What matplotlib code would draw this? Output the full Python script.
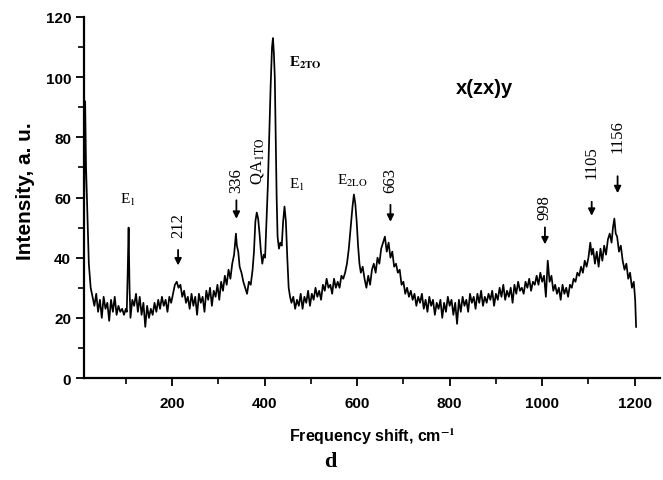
import matplotlib
matplotlib.use("Agg")
import matplotlib.pyplot as plt
from matplotlib.ticker import MultipleLocator, FixedLocator

plt.rcParams['mathtext.fontset'] = 'stix'

shift = [10, 12, 14, 17, 20, 24, 28, 32, 36, 40, 44, 48, 52, 56, 60, 64, 68, 72, 76, 80,
         84, 88, 92, 96, 100, 102, 104, 106, 108, 110, 114, 118, 122, 126, 130, 134, 138, 142, 146, 150,
         154, 158, 162, 166, 170, 174, 178, 182, 186, 190, 194, 198, 202, 206, 210, 214, 218, 222, 226, 230,
         234, 238, 242, 246, 250, 254, 258, 262, 266, 270, 274, 278, 282, 286, 290, 294, 298, 302, 306, 310,
         314, 318, 322, 326, 330, 334, 338, 340, 343, 346, 350, 354, 358, 362, 366, 370, 374, 377, 380, 383,
         386, 389, 392, 395, 398, 401, 404, 407, 410, 413, 416, 418, 420, 422, 424, 426, 428, 431, 434, 437,
         440, 443, 446, 449, 452, 455, 458, 462, 466, 470, 474, 478, 482, 486, 490, 494, 498, 502, 506, 510,
         514, 518, 522, 526, 530, 534, 538, 542, 546, 550, 554, 558, 562, 566, 570, 574, 578, 582, 586, 590,
         593, 596, 599, 602, 605, 608, 612, 616, 620, 624, 628, 632, 636, 640, 644, 648, 652, 656, 660, 664,
         668, 672, 676, 680, 684, 688, 692, 696, 700, 704, 708, 712, 716, 720, 724, 728, 732, 736, 740, 744,
         748, 752, 756, 760, 764, 768, 772, 776, 780, 784, 788, 792, 796, 800, 804, 808, 812, 816, 820, 824,
         828, 832, 836, 840, 844, 848, 852, 856, 860, 864, 868, 872, 876, 880, 884, 888, 892, 896, 900, 904,
         908, 912, 916, 920, 924, 928, 932, 936, 940, 944, 948, 952, 956, 960, 964, 968, 972, 976, 980, 984,
         988, 992, 996, 1000, 1004, 1008, 1012, 1016, 1020, 1024, 1028, 1032, 1036, 1040, 1044, 1048, 1052, 1056, 1060, 1064,
         1068, 1072, 1076, 1080, 1084, 1088, 1092, 1096, 1100, 1104, 1107, 1110, 1114, 1118, 1122, 1126, 1130, 1134, 1138, 1142,
         1146, 1150, 1153, 1156, 1159, 1162, 1166, 1170, 1174, 1178, 1182, 1186, 1190, 1194, 1198, 1201, 1203]

intensity = [60, 92, 70, 54, 38, 30, 27, 24, 28, 22, 26, 20, 27, 23, 25, 19, 26, 22, 27, 21,
             24, 22, 23, 21, 23, 22, 35, 50, 30, 20, 26, 24, 28, 22, 27, 21, 25, 17, 24, 20,
             23, 21, 25, 22, 26, 23, 27, 24, 26, 22, 27, 25, 28, 31, 32, 30, 31, 27, 29, 25,
             27, 23, 28, 24, 27, 21, 28, 25, 27, 22, 29, 26, 30, 24, 29, 27, 31, 26, 32, 29,
             34, 31, 36, 33, 38, 41, 48, 44, 42, 37, 35, 32, 30, 28, 32, 31, 36, 42, 52, 55,
             53, 48, 42, 38, 41, 40, 52, 64, 80, 97, 110, 113, 108, 100, 80, 60, 47, 43, 45, 44,
             52, 57, 52, 40, 30, 27, 25, 27, 23, 26, 24, 28, 23, 27, 25, 29, 24, 28, 26, 30,
             27, 29, 26, 31, 29, 33, 30, 31, 28, 33, 30, 32, 30, 34, 33, 35, 38, 43, 50, 57,
             61, 58, 52, 44, 38, 35, 37, 33, 30, 34, 31, 36, 38, 35, 40, 38, 43, 45, 47, 42,
             45, 40, 42, 37, 38, 35, 36, 31, 32, 28, 30, 27, 29, 26, 28, 24, 27, 25, 28, 23,
             26, 22, 27, 24, 26, 21, 25, 23, 26, 20, 25, 22, 27, 24, 26, 21, 25, 18, 26, 22,
             27, 24, 26, 22, 28, 25, 27, 23, 28, 25, 29, 24, 27, 25, 28, 26, 29, 24, 28, 26,
             30, 27, 31, 26, 29, 27, 30, 25, 31, 28, 32, 29, 30, 28, 32, 30, 33, 29, 32, 31,
             34, 31, 35, 32, 34, 27, 39, 32, 34, 29, 31, 28, 30, 26, 31, 28, 30, 27, 31, 30,
             33, 32, 35, 34, 37, 35, 39, 37, 40, 45, 41, 43, 38, 42, 37, 43, 39, 44, 41, 46,
             48, 45, 50, 53, 48, 47, 42, 44, 39, 36, 38, 33, 35, 30, 32, 26, 17]

x_ticks = [200, 400, 600, 800, 1000, 1200]
y_ticks = [0, 20, 40, 60, 80, 100, 120]

fig = plt.figure(figsize=(6.63, 4.81), dpi=100)
ax = fig.add_axes([0.127, 0.212, 0.868, 0.7506])
ax.plot(shift, intensity, color='black', lw=1.25)

ax.set_xlim(10, 1254)
ax.set_ylim(0, 120)
ax.xaxis.set_major_locator(FixedLocator(x_ticks))
ax.xaxis.set_minor_locator(FixedLocator([100, 300, 500, 700, 900, 1100]))
ax.yaxis.set_major_locator(FixedLocator(y_ticks))
ax.yaxis.set_minor_locator(MultipleLocator(10))
for s in ['top', 'right']:
    ax.spines[s].set_visible(False)
for s in ['left', 'bottom']:
    ax.spines[s].set_linewidth(1.6)
ax.tick_params(which='major', direction='out', length=6, width=1.3, labelsize=11)
ax.tick_params(which='minor', direction='out', length=4, width=1.2)
for lab in ax.get_xticklabels() + ax.get_yticklabels():
    lab.set_fontweight('bold')
    lab.set_family('Liberation Sans')
ax.tick_params(axis='x', pad=7)

ax.set_ylabel('Intensity, a. u.', fontsize=15, fontweight='bold', family='Liberation Sans')
ax.yaxis.set_label_coords(-0.085, 0.52)
ax.set_xlabel('Frequency shift, cm$^{\\mathbf{-1}}$', fontsize=11.5, fontweight='bold',
              family='Liberation Sans', labelpad=11)

serif = 'Liberation Serif'
ax.text(105, 59.5, 'E$_{\\mathrm{1}}$', family=serif, fontsize=11, ha='center', va='center')
ax.text(453, 105, 'E$_{\\mathbf{2TO}}$', family=serif, fontsize=11, fontweight='bold', ha='left', va='center')
ax.text(453, 64.5, 'E$_{\\mathrm{1}}$', family=serif, fontsize=11, ha='left', va='center')
ax.text(556, 66, 'E$_{\\mathrm{2LO}}$', family=serif, fontsize=11, ha='left', va='center')
ax.text(384, 72.5, 'QA$_{\\mathrm{1TO}}$', family=serif, fontsize=12, rotation=90, ha='center', va='center')
ax.text(876, 96.7, 'x(zx)y', family='Liberation Sans', fontsize=14.5, fontweight='bold', ha='center', va='center')

peak_labels = ['212', '336', '663', '998', '1105', '1156']
label_x = [213, 339, 672, 1006, 1107, 1163]
label_y = [51, 66, 66, 57, 72, 80.7]
arrow_top = [43.5, 60, 58.5, 51, 59.5, 68]
arrow_bot = [36.5, 52, 51, 43.5, 53, 60.5]
for t, lx, ly, at, ab in zip(peak_labels, label_x, label_y, arrow_top, arrow_bot):
    ax.text(lx, ly, t, family=serif, fontsize=12, rotation=90, ha='center', va='center')
    ax.annotate('', xy=(lx, ab), xytext=(lx, at),
                arrowprops=dict(arrowstyle='-|>', color='black', lw=1.3, mutation_scale=10))

fig.text(330 / 663, 1 - 462 / 481, 'd', family=serif, fontsize=16, fontweight='bold', ha='center', va='center')

fig.savefig('out.png', dpi=100)
